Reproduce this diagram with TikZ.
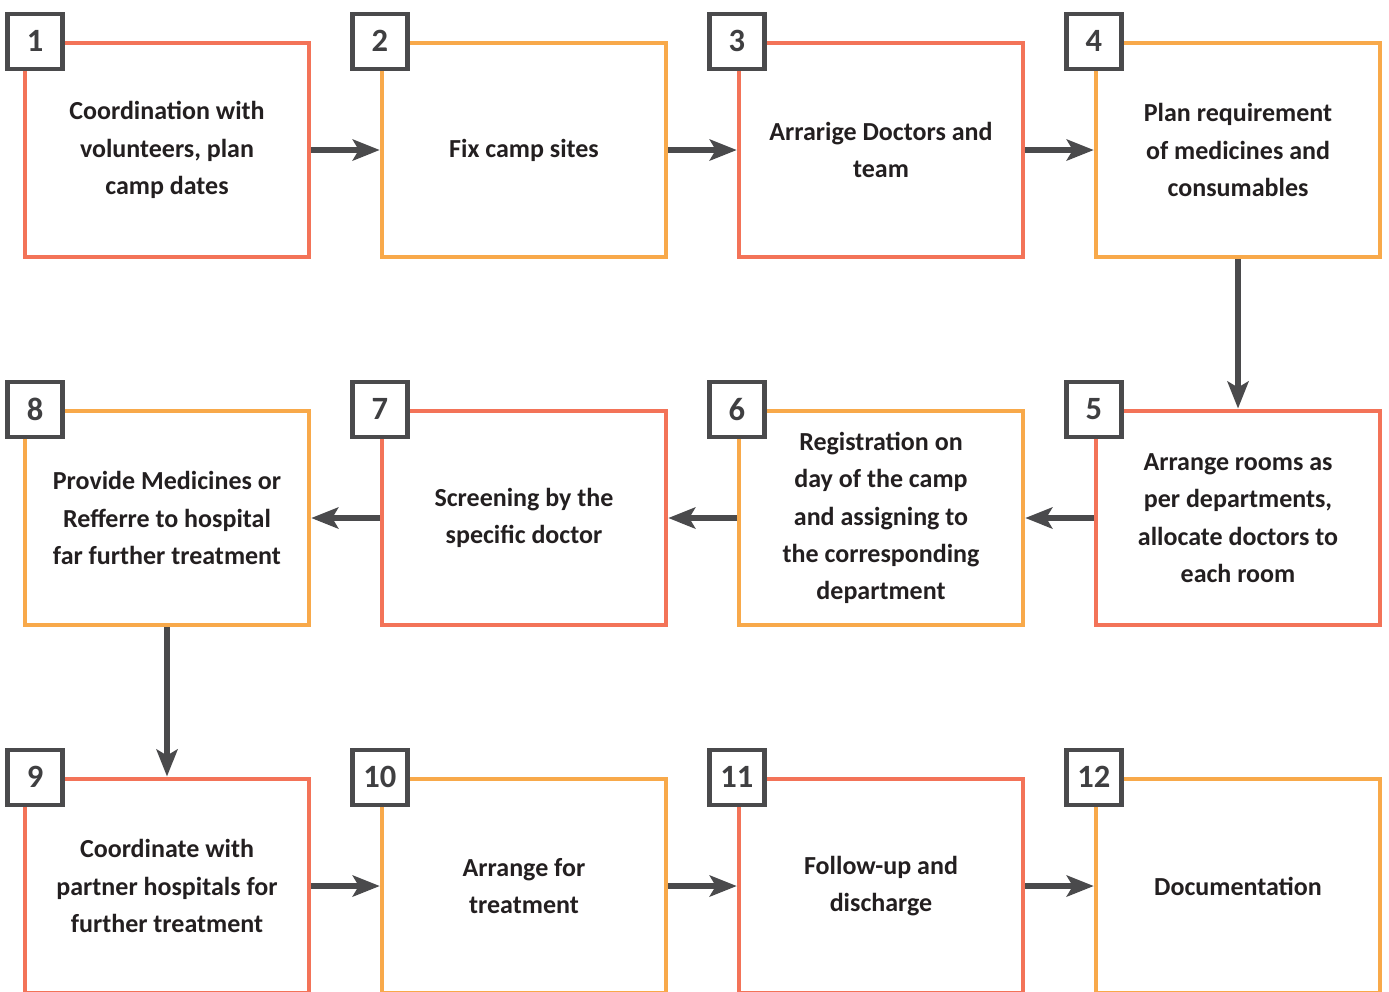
\documentclass[tikz,border=0pt]{standalone}
\usepackage{fontspec}
\setmainfont{Carlito}
\usetikzlibrary{arrows.meta,positioning}

\definecolor{boxred}{RGB}{243,115,88}
\definecolor{boxorange}{RGB}{248,169,74}
\definecolor{taggray}{RGB}{74,74,76}
\definecolor{txtdark}{RGB}{35,31,32}

\tikzset{
  procbox/.style={draw, line width=0.09cm, minimum width=5.68cm, minimum height=4.29cm,
    align=center, text=txtdark, font=\fontsize{14.8}{21.3}\selectfont\bfseries},
  numtag/.style={draw=taggray, fill=white, line width=0.09cm, minimum size=1.1cm,
    inner sep=0pt, text=taggray!85!black, font=\fontsize{18.5}{20}\selectfont\bfseries},
  flowarrow/.style={-{Stealth[length=0.54cm,width=0.42cm,inset=0.12cm]},
    line width=0.11cm, draw=taggray},
}

\begin{document}
\begin{tikzpicture}[x=0.02cm, y=-0.02cm]
  \useasboundingbox (0,0) rectangle (1389,991);

  % 1段目
  \node[procbox, draw=boxred]    (b1) at (167,150) {Coordination with\\volunteers, plan\\camp dates};
  \node[procbox, draw=boxorange] (b2) at (524,150) {Fix camp sites};
  \node[procbox, draw=boxred]    (b3) at (881,150) {Arrarige Doctors and\\team};
  \node[procbox, draw=boxorange] (b4) at (1238,150) {Plan requirement\\of medicines and\\consumables};

  % 2段目（右から左へ）
  \node[procbox, draw=boxred]    (b5) at (1238,518) {Arrange rooms as\\per departments,\\allocate doctors to\\each room};
  \node[procbox, draw=boxorange] (b6) at (881,518) {Registration on\\day of the camp\\and assigning to\\the corresponding\\department};
  \node[procbox, draw=boxred]    (b7) at (524,518) {Screening by the\\specific doctor};
  \node[procbox, draw=boxorange] (b8) at (167,518) {Provide Medicines or\\Refferre to hospital\\far further treatment};

  % 3段目
  \node[procbox, draw=boxred]    (b9)  at (167,886) {Coordinate with\\partner hospitals for\\further treatment};
  \node[procbox, draw=boxorange] (b10) at (524,886) {Arrange for\\treatment};
  \node[procbox, draw=boxred]    (b11) at (881,886) {Follow-up and\\discharge};
  \node[procbox, draw=boxorange] (b12) at (1238,886) {Documentation};

  % 番号タグ（左端の列だけ内側へずらす）
  \foreach \n/\dx in {1/0.245,2/0,3/0,4/0,5/0,6/0,7/0,8/0.245,9/0.245,10/0,11/0,12/0}
    \node[numtag] (t\n) at ([xshift=\dx cm, yshift=-0.015cm]b\n.north west) {\n};

  % 流れの矢印
  \foreach \a/\b in {1/2,2/3,3/4,4/5,5/6,6/7,7/8,8/9,9/10,10/11,11/12}
    \draw[flowarrow] (b\a) -- (b\b);
\end{tikzpicture}
\end{document}
